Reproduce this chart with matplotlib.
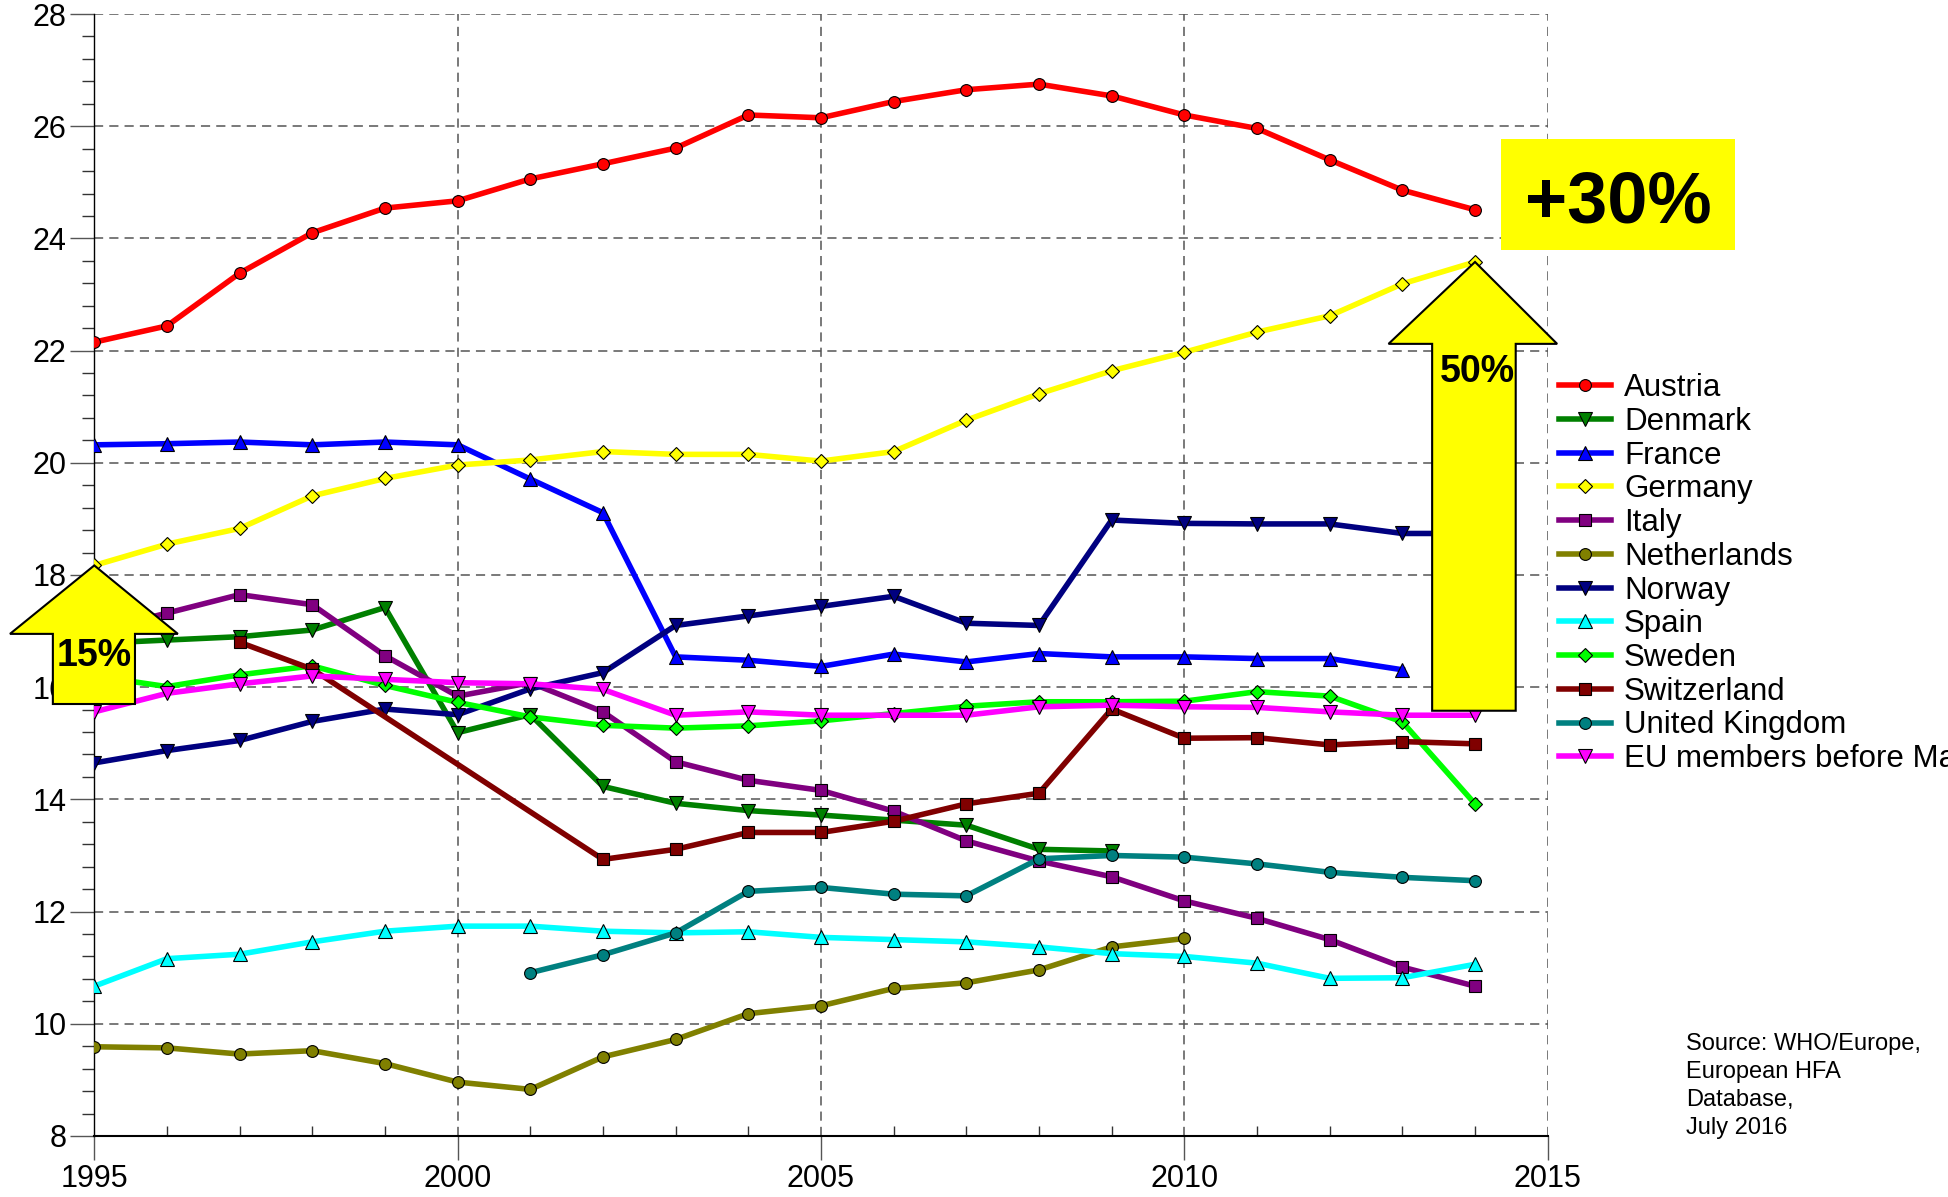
import matplotlib
matplotlib.use('Agg')
import matplotlib.pyplot as plt
from matplotlib.patches import Polygon, Rectangle
from matplotlib.ticker import MultipleLocator

plt.rcParams['font.family'] = ['Liberation Sans', 'DejaVu Sans']

years = list(range(1995, 2015))

austria = [22.15, 22.44, 23.38, 24.10, 24.54, 24.67, 25.06, 25.33, 25.61, 26.20,
           26.15, 26.44, 26.65, 26.75, 26.54, 26.20, 25.96, 25.40, 24.86, 24.51]
denmark_years = list(range(1995, 2010))
denmark = [16.78, 16.84, 16.90, 17.02, 17.42, 15.19, 15.51, 14.23, 13.93, 13.80,
           13.72, 13.63, 13.54, 13.11, 13.08]
france_years = list(range(1995, 2014))
france = [20.32, 20.34, 20.37, 20.32, 20.37, 20.32, 19.71, 19.11, 16.54, 16.48,
          16.37, 16.59, 16.45, 16.60, 16.54, 16.54, 16.51, 16.51, 16.31]
germany = [18.17, 18.55, 18.83, 19.41, 19.72, 19.96, 20.05, 20.20, 20.15, 20.15,
           20.03, 20.20, 20.76, 21.23, 21.64, 21.97, 22.33, 22.62, 23.19, 23.58]
italy = [17.00, 17.32, 17.65, 17.47, 16.56, 15.84, 16.08, 15.56, 14.67, 14.34,
         14.16, 13.79, 13.26, 12.90, 12.62, 12.19, 11.88, 11.50, 11.01, 10.67]
netherlands_years = list(range(1995, 2011))
netherlands = [9.59, 9.57, 9.46, 9.52, 9.29, 8.96, 8.83, 9.41, 9.72, 10.18,
               10.32, 10.63, 10.73, 10.96, 11.37, 11.52]
norway = [14.65, 14.87, 15.05, 15.39, 15.61, 15.51, 15.97, 16.26, 17.10, 17.27,
          17.44, 17.62, 17.14, 17.10, 18.98, 18.92, 18.91, 18.91, 18.74, 18.74]
spain = [10.67, 11.16, 11.24, 11.46, 11.65, 11.74, 11.74, 11.65, 11.62, 11.64,
         11.54, 11.50, 11.46, 11.37, 11.25, 11.20, 11.08, 10.81, 10.82, 11.06]
sweden = [16.20, 16.01, 16.22, 16.38, 16.03, 15.73, 15.47, 15.32, 15.27, 15.31,
          15.40, 15.53, 15.66, 15.74, 15.74, 15.75, 15.92, 15.84, 15.38, 13.92]
switzerland_years = [1997, 1998] + list(range(2002, 2015))
switzerland = [16.80, 16.32, 12.93, 13.11, 13.41, 13.41, 13.61, 13.92, 14.11,
               15.61, 15.09, 15.10, 14.97, 15.03, 14.99]
uk_years = list(range(2001, 2015))
uk = [10.91, 11.23, 11.62, 12.36, 12.43, 12.31, 12.28, 12.94, 13.00, 12.97,
      12.85, 12.70, 12.61, 12.55]
eu = [15.56, 15.89, 16.06, 16.20, 16.14, 16.08, 16.06, 15.96, 15.50, 15.56,
      15.50, 15.50, 15.50, 15.65, 15.68, 15.65, 15.64, 15.56, 15.50, 15.50]

# (label, x, y, colour, marker, size)
series = [
    ('Austria', years, austria, '#FF0000', 'o', 8.5),
    ('Denmark', denmark_years, denmark, '#008000', 'v', 10),
    ('France', france_years, france, '#0000FF', '^', 10),
    ('Germany', years, germany, '#FFFF00', 'D', 7),
    ('Italy', years, italy, '#800080', 's', 8),
    ('Netherlands', netherlands_years, netherlands, '#808000', 'o', 8.5),
    ('Norway', years, norway, '#000080', 'v', 10),
    ('Spain', years, spain, '#00FFFF', '^', 10),
    ('Sweden', years, sweden, '#00FF00', 'D', 7),
    ('Switzerland', switzerland_years, switzerland, '#800000', 's', 8),
    ('United Kingdom', uk_years, uk, '#008080', 'o', 8.5),
    ('EU members before May 2004', years, eu, '#FF00FF', 'v', 10),
]

fig = plt.figure(figsize=(19.48, 11.97), dpi=100)
ax = fig.add_axes([0.0484, 0.051, 0.7461, 0.9373])

for label, x, y, c, m, ms in series:
    ax.plot(x, y, color=c, lw=4.0, marker=m, markersize=ms,
            markerfacecolor=c, markeredgecolor='black', markeredgewidth=0.8,
            label=label, zorder=3)

ax.set_xlim(1995, 2015)
ax.set_ylim(8, 28)
ax.xaxis.set_major_locator(MultipleLocator(5))
ax.xaxis.set_minor_locator(MultipleLocator(1))
ax.yaxis.set_major_locator(MultipleLocator(2))
ax.yaxis.set_minor_locator(MultipleLocator(0.4))
ax.grid(True, which='major', color='#555555', linestyle=(0, (6, 4)), lw=1.1)
ax.spines['top'].set_visible(False)
ax.spines['right'].set_visible(False)
ax.spines['left'].set_linewidth(1.0)
ax.spines['bottom'].set_linewidth(1.5)
ax.tick_params(axis='both', which='major', labelsize=22, direction='out',
               length=17, width=1, color='#555555', pad=3)
ax.tick_params(axis='y', which='minor', direction='out', length=8.5, width=1,
               color='#333333')
ax.tick_params(axis='x', which='minor', direction='in', length=7, width=1,
               color='#333333')

# yellow block arrows: Germany vs EU average
def block_arrow(x0, tip, base, bottom, hw_l, hw_r, sw_l, sw_r):
    pts = [(x0, tip), (x0 + hw_r, base), (x0 + sw_r, base), (x0 + sw_r, bottom),
           (x0 - sw_l, bottom), (x0 - sw_l, base), (x0 - hw_l, base)]
    ax.add_patch(Polygon(pts, closed=True, facecolor='#FFFF00', edgecolor='black',
                         lw=1.5, clip_on=False, zorder=10))

block_arrow(years[0], germany[0], 16.95, 15.70, 1.16, 1.15, 0.57, 0.56)
block_arrow(years[-1], germany[-1], 22.12, 15.58, 1.19, 1.13, 0.59, 0.56)
ax.text(years[0], 16.38, '15%', ha='center', va='baseline', fontsize=27,
        fontweight='bold', zorder=11, clip_on=False)
ax.text(years[-1] + 0.03, 21.44, '50%', ha='center', va='baseline', fontsize=27,
        fontweight='bold', zorder=11, clip_on=False)

W, H = 1948, 1197
fig.add_artist(Rectangle((1501 / W, 1 - 250 / H), 234 / W, 111 / H,
                         transform=fig.transFigure, facecolor='#FFFF00',
                         edgecolor='none', zorder=5))
fig.text(1618 / W, 1 - 222.5 / H, '+30%', ha='center', va='baseline',
         fontsize=52, fontweight='bold', zorder=6)

ax.legend(loc='upper left', bbox_to_anchor=(1559 / W, 1 - 373 / H),
          bbox_transform=fig.transFigure, frameon=False, fontsize=22.5,
          borderpad=0, borderaxespad=0, labelspacing=0.12,
          handlelength=1.66, handletextpad=0.42)

fig.text(1686 / W, 1 - 1033 / H,
         'Source: WHO/Europe,\nEuropean HFA\nDatabase,\nJuly 2016',
         ha='left', va='top', fontsize=17, linespacing=1.36)

fig.savefig('out.png', dpi=100)
